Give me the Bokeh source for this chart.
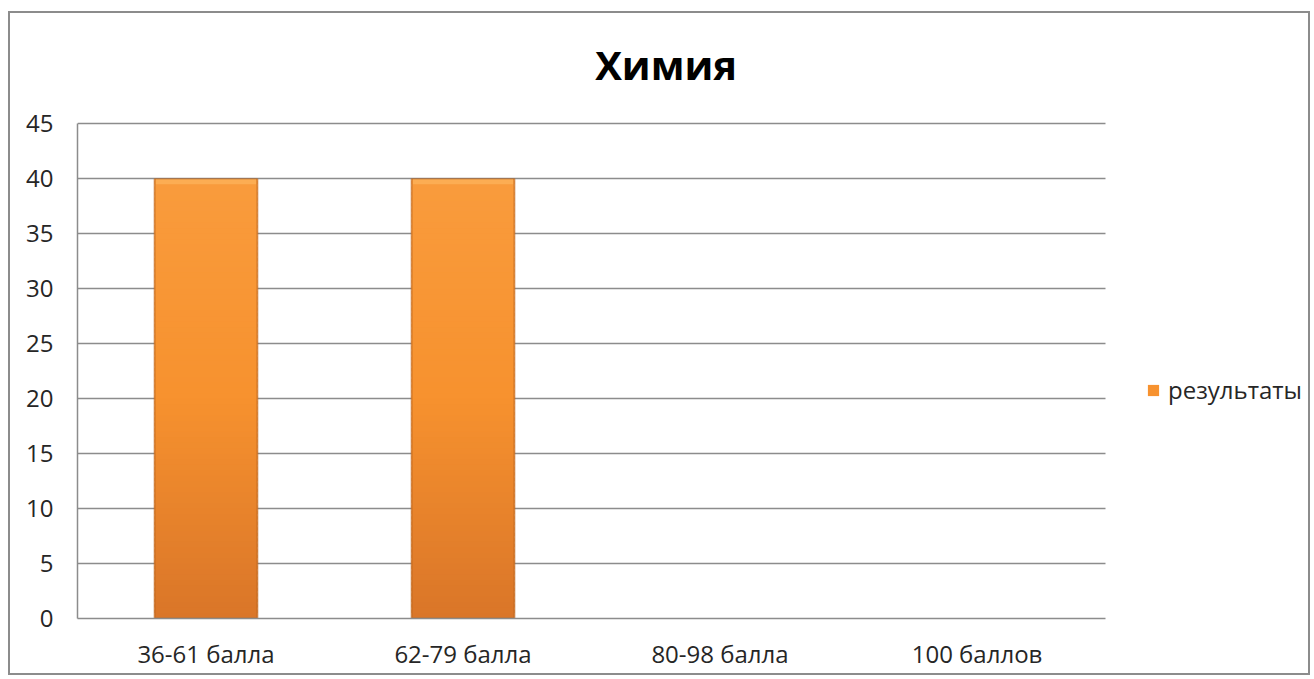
from bokeh.plotting import figure
from bokeh.models import (ColumnDataSource, Legend, LegendItem, Label, FixedTicker,
                          Range1d, Grid)
from bokeh.embed import file_html
from bokeh.resources import INLINE

# ---- data ----
title_text = "Химия"
categories = ["36-61 балла", "62-79 балла", "80-98 балла", "100 баллов"]
results = [40, 40, 0, 0]
series_name = "результаты"
y_ticks = [0, 5, 10, 15, 20, 25, 30, 35, 40, 45]

FONT = "Open Sans"
GRID = "#8c8c8c"
n = len(categories)
xpos = [i + 0.5 for i in range(n)]          # category centres on the numeric axis

p = figure(
    x_range=Range1d(0, n * 1.2013),
    y_range=Range1d(0, 45 * 1.1889),
    width=1302, height=664,
    output_backend="svg", toolbar_location=None,
    min_border_left=67, min_border_top=17, min_border_right=0, min_border_bottom=59,
)
p.styles = {"border": "2px solid #8c8c8c", "margin-top": "11px", "margin-left": "8px"}
p.outline_line_color = None
p.xgrid.grid_line_color = None
p.ygrid.grid_line_color = None

p.xaxis.ticker = FixedTicker(ticks=xpos)
p.xaxis.major_label_overrides = {x: c for x, c in zip(xpos, categories)}
p.xaxis.bounds = (0, n)
p.yaxis.ticker = FixedTicker(ticks=y_ticks)
p.yaxis.bounds = (0, 45)

for ax in (p.xaxis, p.yaxis):
    ax.axis_line_color = GRID
    ax.axis_line_width = 1.5
    ax.major_tick_line_color = None
    ax.minor_tick_line_color = None
    ax.major_tick_out = 0
    ax.major_tick_in = 0
    ax.major_label_text_font = FONT
    ax.major_label_text_font_size = "24px"
    ax.major_label_text_color = "#262626"
p.xaxis.major_label_standoff = 18
p.yaxis.major_label_standoff = 24

# horizontal gridlines limited to the plotting area (0..n)
if "cross_bounds" in Grid.properties():
    g = Grid(dimension=1, ticker=p.yaxis[0].ticker, grid_line_color=GRID,
             grid_line_width=1.5, cross_bounds=(0, n))
    p.add_layout(g)
else:
    p.segment(x0=[0] * len(y_ticks), x1=[n] * len(y_ticks), y0=y_ticks, y1=y_ticks,
              line_color=GRID, line_width=1.5, level="underlay")

# bars: vertical gradient approximated by stacked slices computed from the values
N = 80
stops = [(0.0, (218, 118, 41)), (0.5, (247, 146, 47)), (1.0, (250, 156, 61))]


def colour_at(t):
    for (t0, c0), (t1, c1) in zip(stops[:-1], stops[1:]):
        if t0 <= t <= t1:
            f = (t - t0) / (t1 - t0)
            return "#%02x%02x%02x" % tuple(int(a + (b - a) * f) for a, b in zip(c0, c1))
    return "#f7922f"


base = p.vbar(x=xpos, top=results, width=0.4, fill_color="#f7922f", line_color=None)
for i in range(N):
    src = ColumnDataSource(dict(
        x=xpos,
        bottom=[v * i / N for v in results],
        top=[v * min(i + 1.6, N) / N for v in results],
    ))
    p.vbar(x="x", bottom="bottom", top="top", width=0.4, source=src,
           fill_color=colour_at((i + 0.5) / N), line_color=None)

# bevel: darker side edges, light top rim (only for non-empty bars)
nz_x = [x for x, v in zip(xpos, results) if v > 0]
nz_vals = [v for v in results if v > 0]
p.vbar(x=nz_x, top=nz_vals, width=0.4, fill_color=None,
       line_color="#b8621e", line_width=2, line_alpha=0.55)
p.vbar(x=nz_x, bottom=[v * 0.988 for v in nz_vals], top=nz_vals, width=0.39,
       fill_color="#ffc46e", fill_alpha=0.45, line_color=None)

# title
p.add_layout(Label(x=2.29, y=50.45, text=title_text, text_align="center",
                   text_baseline="alphabetic", text_font=FONT, text_font_style="bold",
                   text_font_size="40px", text_color="#000000"))

legend = Legend(items=[LegendItem(label=series_name, renderers=[base])],
                location=(1069, 212), padding=0, margin=0, border_line_color=None,
                background_fill_alpha=0, glyph_width=14, glyph_height=14,
                label_standoff=8, label_text_font=FONT, label_text_font_size="24px",
                label_text_color="#262626")
p.add_layout(legend)

open("out.html", "w").write(file_html(p, INLINE))
